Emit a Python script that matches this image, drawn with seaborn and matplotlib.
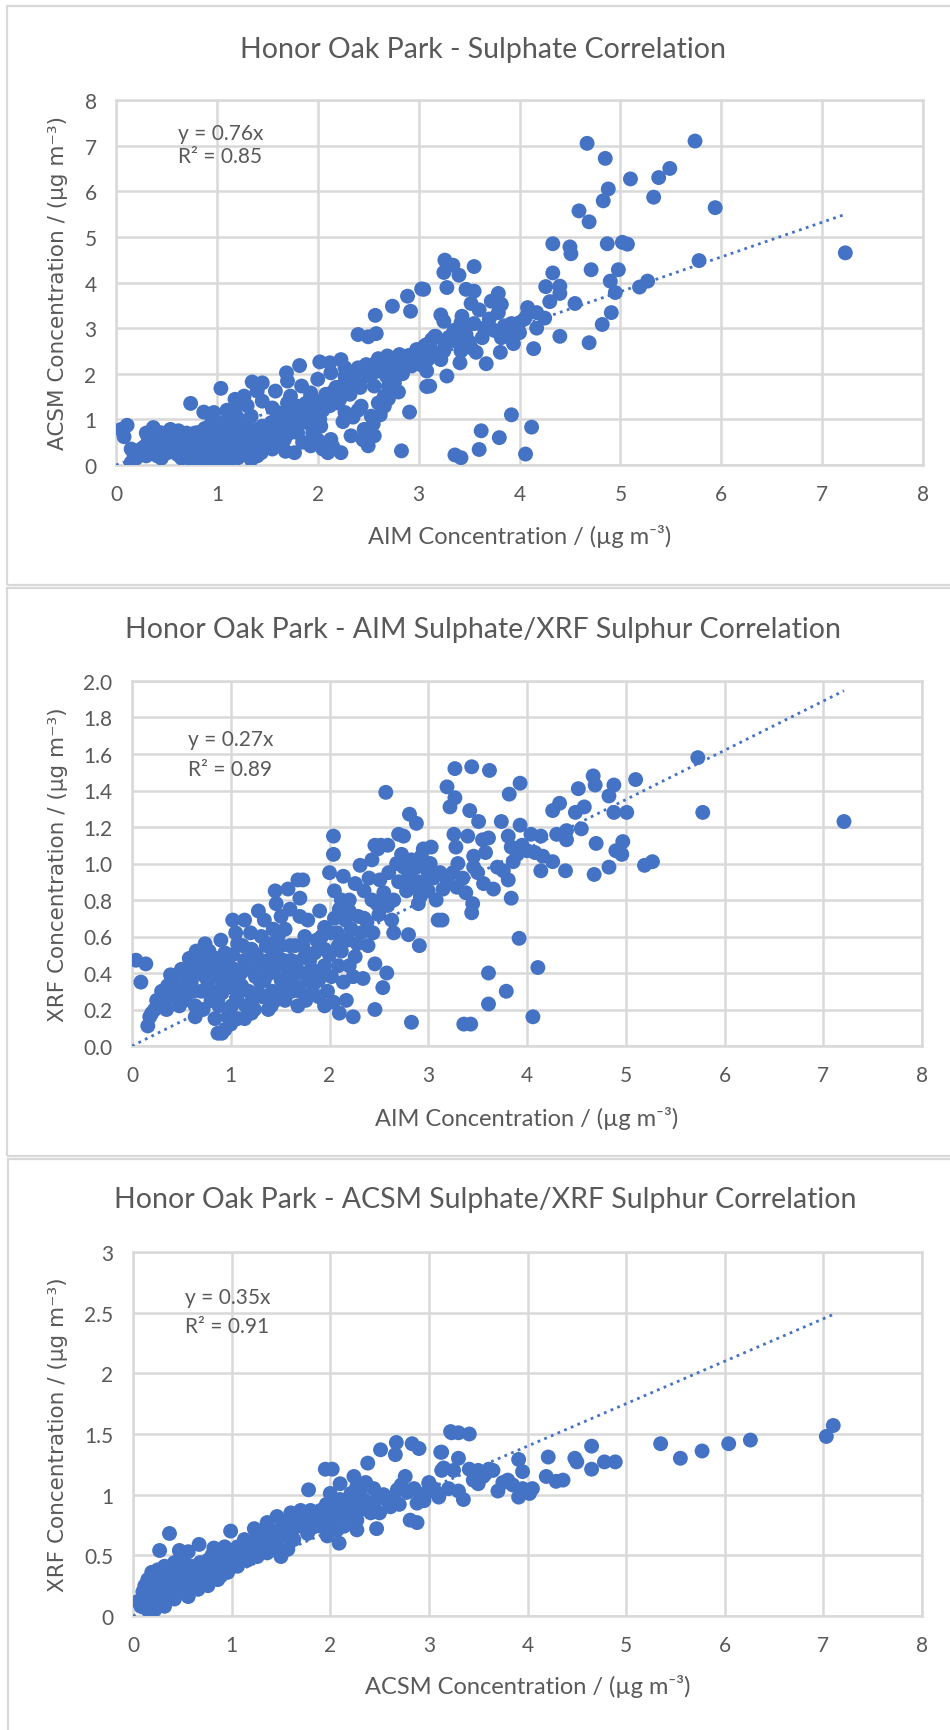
import matplotlib
matplotlib.use("Agg")
import matplotlib.pyplot as plt
import seaborn as sns
import pandas as pd
from matplotlib.patches import Rectangle
from matplotlib.ticker import FuncFormatter

# ---------------- data ----------------
# Panel 1: AIM sulphate (x) vs ACSM sulphate (y)
aim_acsm_points = [
    (0.05,0.78),(0.11,0.87),(0.08,0.62),(0.37,0.82),(0.74,1.35),(1.04,1.68),(0.87,1.16),(0.97,1.15),
    (1.18,1.44),(1.18,1.26),(1.27,1.51),(1.35,1.82),(1.45,1.80),(1.40,1.62),(1.45,1.40),(1.58,1.62),
    (1.69,2.02),(1.70,1.84),(1.82,2.18),(2.02,2.26),(2.12,2.24),(2.40,2.86),(2.50,2.81),(2.58,2.88),
    (2.57,3.28),(2.74,3.48),(2.89,3.70),(2.92,3.37),(3.03,3.86),(2.60,2.33),(2.69,2.39),(2.81,2.42),
    (2.98,2.53),(3.06,2.61),(3.16,2.82),(3.09,2.31),(3.11,1.73),
    (2.27,1.95),(2.40,2.13),(2.50,2.09),(2.33,1.73),(2.20,1.58),(2.07,1.44),(1.93,1.51),(1.80,1.29),
    (1.67,1.07),(1.54,0.93),(1.40,0.78),(1.27,0.71),(1.14,0.60),(1.04,0.53),(0.91,0.42),(0.78,0.42),
    (0.61,0.64),(0.54,0.78),(0.44,0.45),(0.31,0.45),(0.24,0.27),(0.18,0.20),(0.15,0.05),(0.87,0.05),
    (1.04,0.12),(1.21,0.16),(1.34,0.12),(0.97,0.27),(0.74,0.23),(0.61,0.23),
    (1.70,1.36),(1.80,0.85),(1.77,0.27),(1.93,0.42),(2.03,0.85),(2.13,0.56),(2.23,0.27),(2.10,0.27),
    (2.33,0.64),(2.46,0.78),(2.56,0.64),(2.50,0.42),(2.83,0.31),(2.91,1.16),(2.66,1.51),(2.53,1.07),
    (2.27,1.15),(1.93,1.07),(2.20,1.36),(2.43,1.29),(2.60,1.36),(2.76,1.80),(2.86,2.17),(2.23,2.31),
    (2.33,2.02),(2.76,2.02),(2.93,2.17),(1.93,1.58),(1.87,1.15),(1.60,0.71),(1.50,0.56),(1.34,0.42),
    (1.14,0.34),(1.67,0.56),(1.80,0.71),(2.10,1.44),(1.57,0.93),(1.34,1.07),(1.21,0.85),(1.11,0.71),
    (1.04,0.78),(0.81,0.71),(0.71,0.56),(0.44,0.71),(0.34,0.56),(0.51,0.27),(0.41,0.20),(0.84,0.20),
    (0.94,0.56),(1.27,0.42),(1.44,0.27),(1.47,0.71),(1.60,1.15),(1.73,1.51),(1.84,1.73),(2.00,1.88),
    (2.13,2.02),(2.27,2.13),(2.43,1.88),(2.56,1.73),(2.66,1.29),(2.70,1.73),(2.83,2.31),(3.00,2.31),
    (3.13,2.75),
    (0.25,0.35),(0.35,0.30),(0.45,0.55),(0.55,0.50),(0.65,0.45),(0.70,0.70),(0.80,0.55),(0.85,0.35),
    (0.90,0.15),(0.95,0.45),(1.00,0.30),(1.05,0.45),(1.10,0.20),(1.15,0.50),(1.20,0.65),(1.25,0.30),
    (1.30,0.55),(1.35,0.75),(1.40,0.50),(1.45,0.85),(1.50,0.40),(1.55,0.65),(1.60,0.90),(1.65,0.80),
    (1.70,1.00),(1.75,0.95),(1.85,1.00),(1.90,1.20),(1.95,1.30),(2.05,1.20),(2.15,1.60),(2.25,1.75),
    (2.35,1.85),(2.45,2.00),(2.55,2.20),(2.65,2.10),(2.75,2.25),(2.90,2.40),(3.00,2.50),(0.20,0.15),
    (0.30,0.20),(0.38,0.38),(0.50,0.35),(0.60,0.55),(0.68,0.30),(0.75,0.60),(0.88,0.80),(1.00,0.85),
    (1.08,0.95),
    (0.20,0.30),(0.28,0.40),(0.32,0.60),(0.40,0.65),(0.48,0.60),(0.52,0.45),(0.58,0.35),(0.62,0.75),
    (0.66,0.60),(0.72,0.45),(0.78,0.70),(0.82,0.30),(0.86,0.60),(0.90,0.70),(0.92,0.25),(0.96,0.62),
    (1.00,0.10),(1.02,0.65),(1.06,0.25),(1.12,0.80),(1.16,0.25),(1.18,0.45),(1.22,0.35),(1.24,0.58),
    (1.28,0.85),(1.30,0.22),(1.33,0.62),(1.38,0.35),(1.42,0.62),(1.48,0.50),(1.52,0.80),(1.56,0.50),
    (1.62,0.60),(1.66,0.95),(1.72,0.70),(1.76,1.10),(1.82,1.15),(1.88,1.35),(1.92,0.90),(1.98,1.40),
    (2.02,1.00),(2.08,1.55),(2.12,1.30),(2.18,1.70),(2.22,1.45),(2.28,1.90),(2.32,1.55),(2.38,1.95),
    (2.42,1.70),(2.48,2.20),(2.52,1.95),(2.58,2.05),(2.62,2.25),(2.68,1.95),(2.72,2.15),(2.78,2.30),
    (2.84,2.00),(2.88,2.25),(2.95,2.35),(3.02,2.20),(3.05,2.45),(3.12,2.55),(3.18,2.40),(3.25,2.50),
    (3.30,2.80),(3.35,2.95),(3.38,2.70),(3.45,3.00),(3.50,2.70),(3.55,3.10),(3.65,3.00),(3.70,3.20),
    (3.75,2.95),(3.85,3.05),(3.90,2.85),(4.00,2.90),(4.05,3.20),(1.10,1.20),(1.20,1.05),(1.30,1.30),
    (1.55,1.25),(0.95,0.95),(1.15,1.00),(0.55,0.62),(0.30,0.70),(0.15,0.35),(0.45,0.15),(0.65,0.15),
    (0.75,0.10),(0.80,0.15),(1.12,0.08),(1.20,0.30),(1.40,0.20),(1.55,0.35),(1.62,0.45),(1.68,0.30),
    (1.85,0.50),(1.95,0.70),(2.00,0.55),(2.05,0.35),(2.15,0.40),(2.25,0.95),(2.35,1.05),(2.40,1.20),
    (2.45,0.55),(2.55,0.90),(2.62,1.10),(2.70,1.45),(2.80,1.60),
    (4.67,7.05),(4.85,6.72),(5.74,7.10),(5.49,6.50),(5.38,6.30),(5.10,6.27),(4.88,6.05),(4.83,5.79),
    (5.33,5.87),(5.94,5.64),(4.59,5.57),(4.69,5.33),(4.33,4.85),(4.50,4.78),(4.51,4.63),(4.87,4.85),
    (5.02,4.88),(5.07,4.84),(7.23,4.65),(5.78,4.48),(4.33,4.21),(4.71,4.28),(4.98,4.28),(4.90,4.03),
    (5.27,4.03),(5.19,3.90),(4.26,3.91),(4.40,3.92),(4.40,3.76),(4.95,3.78),(4.30,3.58),(4.55,3.54),
    (4.91,3.34),(4.82,3.08),(4.40,2.82),(4.69,2.68),(4.14,2.55),(3.94,2.66),(3.81,2.47),(3.67,2.22),
    (4.17,3.00),(4.08,3.45),(4.17,3.34),(4.25,3.22),(4.00,3.12),(3.92,3.10),(3.79,3.34),(3.72,3.59),
    (3.79,3.76),(3.82,3.52),(3.55,3.81),(3.47,3.85),(3.55,4.35),(3.26,4.49),(3.34,4.38),(3.40,4.16),
    (3.25,4.22),(3.28,3.89),(3.05,3.85),(3.52,3.54),(3.60,3.40),(3.22,3.29),(3.25,3.15),(3.43,3.26),
    (3.42,3.12),(3.17,2.82),(3.08,2.64),(3.26,2.62),(3.47,2.86),(3.63,2.79),(3.52,2.57),(3.57,2.47),
    (3.41,2.24),(3.28,1.95),(3.08,1.72),(3.08,2.06),(3.22,2.31),(3.42,2.50),(3.82,2.79),(3.95,2.97),
    (4.08,3.31),
    (3.92,1.10),(3.62,0.75),(3.80,0.60),(4.12,0.83),(3.60,0.34),(4.06,0.24),(3.36,0.22),(3.42,0.16),
]

# Panel 2: AIM sulphate (x) vs XRF sulphur (y)
aim_xrf_points = [
    (0.04,0.47),(0.14,0.45),(0.09,0.35),(0.39,0.39),(0.74,0.56),(1.02,0.69),(1.14,0.69),(1.28,0.74),
    (1.45,0.85),(1.46,0.78),(1.51,0.71),(1.34,0.69),(1.43,0.64),(1.31,0.60),(1.58,0.86),(1.68,0.91),
    (1.73,0.91),(1.70,0.81),(1.70,0.71),(1.78,0.69),(1.90,0.74),(1.95,0.65),(2.02,0.62),(2.04,1.15),
    (2.04,1.05),(2.00,0.95),(2.05,0.85),(2.14,0.93),(2.26,0.89),(2.31,0.99),(2.43,1.02),(2.49,1.08),
    (2.59,1.10),(2.51,0.91),(2.75,1.15),(2.73,1.05),(2.83,1.02),(2.93,1.04),(3.03,1.09),(2.86,0.87),
    (2.90,0.78),(3.10,0.69),(2.80,0.61),(2.91,0.55),(2.59,0.77),(2.43,0.80),(2.63,0.69),(2.29,0.71),
    (2.16,0.69),(2.22,0.64),(2.09,0.55),(2.26,0.49),(2.39,0.55),(2.46,0.45),(2.58,0.40),(2.34,0.37),
    (2.24,0.38),(2.14,0.35),(2.54,0.32),(2.46,0.20),(2.17,0.25),(2.10,0.18),(2.24,0.16),(2.83,0.13),
    (1.95,0.44),(1.89,0.36),(1.82,0.29),(1.68,0.22),(1.65,0.33),(1.51,0.36),(1.45,0.25),(1.28,0.29),
    (1.21,0.18),(1.07,0.15),(0.94,0.09),(0.87,0.07),(1.01,0.22),(0.91,0.29),(0.87,0.38),(1.04,0.42),
    (1.14,0.47),(1.28,0.45),(1.38,0.47),(1.48,0.45),(1.61,0.47),(1.75,0.49),(1.65,0.55),(1.51,0.55),
    (1.45,0.51),(1.21,0.53),(1.07,0.56),(0.94,0.51),(0.80,0.44),(0.67,0.40),(0.60,0.35),(0.50,0.31),
    (0.40,0.27),(0.30,0.24),(0.23,0.20),(0.18,0.16),(0.16,0.11),(0.77,0.35),(0.80,0.25),(0.64,0.22),
    (0.64,0.16),(0.53,0.25),(0.36,0.33),(0.70,0.49),(0.94,0.40),(1.11,0.33),(1.34,0.36),(1.41,0.22),
    (1.55,0.25),(1.72,0.40),(1.82,0.42),(1.85,0.51),(1.95,0.53),(1.75,0.60),(1.55,0.64),(1.21,0.24),
    (1.14,0.15),(0.97,0.16),(1.04,0.31),(0.84,0.15),(0.91,0.07),(2.02,0.38),(2.09,0.44),(1.89,0.27),
    (1.95,0.22),
    (0.20,0.18),(0.25,0.25),(0.45,0.30),(0.55,0.38),(0.62,0.42),(0.70,0.30),(0.75,0.45),(0.85,0.48),
    (0.98,0.36),(1.10,0.40),(1.18,0.30),(1.25,0.38),(1.32,0.27),(1.40,0.40),(1.58,0.42),(1.62,0.30),
    (1.78,0.36),(1.92,0.60),(2.05,0.70),(2.12,0.80),(2.20,0.74),(2.35,0.70),(2.50,0.72),(2.65,0.80),
    (2.70,0.90),(2.80,0.95),(2.95,0.88),(3.00,0.95),
    (2.57,1.39),(2.81,1.27),(2.88,1.22),(2.46,1.10),(2.52,1.10),(2.70,1.16),(2.95,1.08),(2.85,1.00),
    (2.90,0.90),(3.00,0.85),
    (0.30,0.30),(0.35,0.20),(0.42,0.36),(0.48,0.22),(0.50,0.42),(0.55,0.28),(0.58,0.48),(0.62,0.30),
    (0.68,0.45),(0.72,0.20),(0.74,0.38),(0.78,0.52),(0.82,0.30),(0.84,0.42),(0.88,0.22),(0.90,0.58),
    (0.92,0.34),(0.96,0.45),(1.00,0.12),(1.02,0.50),(1.06,0.26),(1.08,0.38),(1.12,0.55),(1.15,0.22),
    (1.18,0.42),(1.20,0.62),(1.24,0.20),(1.26,0.50),(1.30,0.35),(1.32,0.44),(1.36,0.55),(1.38,0.20),
    (1.42,0.30),(1.44,0.42),(1.48,0.60),(1.50,0.30),(1.53,0.47),(1.56,0.36),(1.60,0.55),(1.63,0.40),
    (1.67,0.46),(1.70,0.30),(1.73,0.55),(1.76,0.25),(1.80,0.47),(1.84,0.34),(1.87,0.58),(1.92,0.40),
    (1.98,0.30),(2.00,0.50),(2.04,0.24),(2.08,0.62),(2.12,0.52),(2.18,0.58),(2.20,0.44),(2.28,0.56),
    (2.32,0.62),(2.38,0.68),(2.44,0.62),(2.48,0.78),(2.55,0.84),(2.60,0.95),(2.65,0.62),(2.68,1.00),
    (2.75,0.98),(2.78,0.85),(2.82,0.92),(2.88,0.98),(2.92,0.82),(2.96,1.00),(3.02,1.00),(3.05,0.92),
    (3.08,0.80),(3.12,0.95),(3.15,0.86),(3.25,0.95),(3.30,1.00),(3.35,0.92),(3.38,0.84),(3.50,0.95),
    (3.70,0.98),(3.90,1.05),(3.95,1.10),(2.40,0.92),(2.35,0.85),(2.20,0.80),(2.10,0.75),(1.60,0.75),
    (1.40,0.56),(1.05,0.62),(0.65,0.52),
    (5.73,1.58),(5.78,1.28),(7.21,1.23),(5.10,1.46),(4.88,1.43),(4.67,1.48),(4.69,1.43),(4.52,1.41),
    (4.83,1.37),(4.88,1.28),(5.01,1.28),(4.58,1.31),(4.49,1.28),(4.33,1.33),(4.26,1.29),(4.55,1.19),
    (4.40,1.18),(4.40,1.13),(4.30,1.16),(4.70,1.11),(4.97,1.12),(4.90,1.07),(4.96,1.05),(5.19,0.99),
    (5.27,1.01),(4.83,0.98),(4.68,0.94),(4.39,0.96),(4.14,0.96),(4.26,1.01),(4.16,1.04),(4.08,1.06),
    (4.00,1.07),(4.04,1.16),(4.14,1.15),
    (3.27,1.52),(3.44,1.53),(3.62,1.51),(3.19,1.42),(3.93,1.44),(3.82,1.38),(3.27,1.36),(3.22,1.31),
    (3.42,1.29),(3.51,1.23),(3.74,1.23),(3.93,1.21),(3.26,1.16),(3.40,1.15),(3.55,1.13),(3.61,1.14),
    (3.81,1.15),(3.84,1.09),(3.28,1.09),(3.46,1.04),(3.58,1.06),(3.46,0.98),(3.76,0.96),(3.86,1.01),
    (3.81,0.91),(3.56,0.89),(3.66,0.86),(3.29,0.87),(3.19,0.91),(3.84,0.81),(3.45,0.78),(3.44,0.73),
    (3.14,0.69),(3.92,0.59),(4.11,0.43),(3.61,0.40),(3.79,0.30),(3.61,0.23),(4.06,0.16),(3.36,0.12),
    (3.43,0.12),
]

# Panel 3: ACSM sulphate (x) vs XRF sulphur (y)
acsm_xrf_points = [
    (7.10,1.57),(7.03,1.48),(6.26,1.45),(6.04,1.42),(5.77,1.36),(5.55,1.30),(5.35,1.42),(4.89,1.27),
    (4.78,1.27),(4.65,1.40),(4.65,1.21),(4.48,1.30),(4.50,1.27),(4.21,1.31),(4.19,1.15),(4.29,1.11),
    (4.36,1.12),(3.91,1.29),(3.95,1.19),(4.02,1.01),(3.91,0.98),(3.80,1.12),(3.70,1.03),(3.30,1.30),
    (3.23,1.51),(3.30,1.51),(3.41,1.50),(3.41,1.21),(3.50,1.09),(3.57,1.17),(3.61,1.21),(3.35,0.96),
    (3.13,1.35),
    (3.85,1.08),(3.95,1.05),(4.05,1.05),(3.75,1.10),(3.45,1.12),(3.55,1.15),(3.20,1.05),(3.25,1.20),
    (3.15,1.22),(3.05,1.05),(3.00,1.10),(2.95,0.95),(3.10,1.00),(3.30,1.03),(3.65,1.20),(3.50,1.20),
    (1.95,1.21),(2.02,1.21),(1.78,1.04),(2.51,1.37),(2.67,1.43),(2.66,1.33),(2.83,1.42),(2.90,1.38),
    (2.38,1.26),(3.22,1.52),(3.12,1.35),(3.13,1.20),(0.37,0.68),(0.27,0.54),(0.47,0.54),(0.56,0.53),
    (0.67,0.59),(0.82,0.56),(0.99,0.70),(1.23,0.72),
    (2.76,1.15),(2.88,0.93),(3.00,1.09),(3.10,0.98),(2.47,0.96),(2.61,0.90),(2.68,1.04),(2.81,0.79),
    (2.88,0.77),(2.47,0.72),(2.09,0.60),(2.27,0.71),(2.41,0.85),(2.27,0.93),(2.10,0.85),(2.00,1.01),
    (1.94,0.85),(1.80,0.79),(1.67,0.74),(1.50,0.68),(1.50,0.49),(1.40,0.63),(1.33,0.71),(1.21,0.57),
    (1.13,0.46),(1.03,0.44),(0.93,0.41),(0.89,0.33),(0.79,0.36),(0.72,0.30),(0.66,0.33),(0.59,0.25),
    (0.52,0.27),(0.45,0.22),(0.39,0.25),(0.32,0.19),(0.25,0.16),(0.19,0.19),(0.15,0.30),(0.19,0.36),
    (0.25,0.38),(0.32,0.41),(0.42,0.44),(0.12,0.14),(0.08,0.08),(0.15,0.05),(0.05,0.12),(0.22,0.27),
    (0.29,0.30),(0.35,0.33),(0.49,0.38),(0.59,0.41),(0.76,0.46),(0.86,0.52),(1.06,0.57),(1.13,0.63),
    (1.26,0.66),(1.36,0.77),(1.46,0.82),(1.60,0.85),(1.70,0.87),(1.80,0.87),(1.90,0.87),(2.00,0.90),
    (2.10,0.96),(2.21,1.01),(2.27,1.07),(2.24,1.15),(2.10,1.09),(2.34,0.96),(2.27,0.79),(2.14,0.74),
    (2.00,0.71),(1.90,0.74),(1.77,0.68),(1.63,0.63),(1.57,0.55),(1.46,0.57),(1.36,0.52),(1.26,0.49),
    (1.16,0.46),(1.06,0.41),(0.96,0.36),(0.86,0.30),(0.76,0.25),(0.66,0.22),(0.56,0.16),(0.42,0.14),
    (0.32,0.08),(0.22,0.05),(1.97,0.66),(2.07,0.71),(0.93,0.57),(0.79,0.46),
    (0.10,0.20),(0.12,0.25),(0.15,0.12),(0.18,0.28),(0.20,0.10),(0.22,0.35),(0.24,0.22),(0.26,0.30),
    (0.28,0.12),(0.30,0.36),(0.33,0.26),(0.36,0.18),(0.38,0.38),(0.40,0.30),(0.44,0.34),(0.46,0.27),
    (0.48,0.45),(0.50,0.20),(0.53,0.33),(0.55,0.42),(0.58,0.30),(0.62,0.38),(0.64,0.28),(0.68,0.44),
    (0.70,0.36),(0.74,0.30),(0.78,0.40),(0.80,0.50),(0.84,0.36),(0.88,0.45),(0.90,0.38),(0.95,0.50),
    (0.98,0.43),(1.02,0.52),(1.05,0.47),(1.10,0.55),(1.15,0.52),(1.18,0.60),(1.22,0.52),(1.28,0.60),
    (1.32,0.56),(1.38,0.65),(1.42,0.70),(1.45,0.62),(1.52,0.75),(1.55,0.66),(1.58,0.78),(1.62,0.72),
    (1.65,0.82),(1.72,0.78),(1.75,0.84),(1.82,0.73),(1.85,0.82),(1.92,0.80),(1.96,0.92),(2.02,0.80),
    (2.05,0.95),(2.12,0.90),(2.16,0.82),(2.20,0.95),(2.24,0.88),(2.30,1.02),(2.32,0.88),(2.36,1.10),
    (2.40,0.92),(2.44,1.05),(2.50,0.85),(2.54,1.00),(2.58,0.95),(2.64,0.98),(2.70,0.92),(2.72,1.08),
    (2.78,1.02),(2.85,1.05),(2.92,1.00),(2.98,1.02),
]

titles = [
    "Honor Oak Park - Sulphate Correlation",
    "Honor Oak Park - AIM Sulphate/XRF Sulphur Correlation",
    "Honor Oak Park - ACSM Sulphate/XRF Sulphur Correlation",
]
x_labels = ["AIM Concentration / (µg m⁻³)", "AIM Concentration / (µg m⁻³)",
            "ACSM Concentration / (µg m⁻³)"]
y_labels = ["ACSM Concentration / (µg m⁻³)", "XRF Concentration / (µg m⁻³)",
            "XRF Concentration / (µg m⁻³)"]
slopes = [0.76, 0.27, 0.35]
r2_values = [0.85, 0.89, 0.91]
x_ticks = [0, 1, 2, 3, 4, 5, 6, 7, 8]
y_ticks_1 = [0, 1, 2, 3, 4, 5, 6, 7, 8]
y_ticks_2 = [0.0, 0.2, 0.4, 0.6, 0.8, 1.0, 1.2, 1.4, 1.6, 1.8, 2.0]
y_ticks_3 = [0, 0.5, 1, 1.5, 2, 2.5, 3]

# ---------------- style ----------------
sns.set_theme(style="whitegrid")
NARROW = ['Liberation Sans Narrow', 'Lato', 'DejaVu Sans']
plt.rcParams['font.family'] = NARROW

BLUE = '#4472C4'
GRID = '#D9D9D9'
TXT = '#595959'

W, H = 950, 1731
fig = plt.figure(figsize=(W / 100, H / 100), dpi=100)
fig.patch.set_facecolor('white')


def rect(l, t, r, b):
    return [l / W, 1 - b / H, (r - l) / W, (b - t) / H]


panels = [
    dict(pts=aim_acsm_points, ax=(116, 101, 923, 466), box=(7, 7, 962, 586),
         title_xy=(483, 50), xlab_y=537, eq_xy=(178, 134, 157), yt=y_ticks_1,
         fmt=lambda v, p: f"{v:g}"),
    dict(pts=aim_xrf_points, ax=(132, 682, 922, 1047), box=(7, 589, 962, 1157),
         title_xy=(483, 630), xlab_y=1119, eq_xy=(188, 740, 770), yt=y_ticks_2,
         fmt=lambda v, p: f"{v:.1f}"),
    dict(pts=acsm_xrf_points, ax=(133, 1253, 922, 1617), box=(8, 1160, 962, 1740),
         title_xy=(485, 1200), xlab_y=1687, eq_xy=(185, 1298, 1327), yt=y_ticks_3,
         fmt=lambda v, p: f"{v:g}"),
]

for i, pnl in enumerate(panels):
    bl, bt, br, bb = pnl['box']
    fig.add_artist(Rectangle((bl / W, 1 - bb / H), (br - bl) / W, (bb - bt) / H,
                             transform=fig.transFigure, fill=False,
                             edgecolor=GRID, linewidth=1.6))

    l, t, r, b = pnl['ax']
    ax = fig.add_axes(rect(l, t, r, b))
    ax.set_facecolor('white')
    df = pd.DataFrame(pnl['pts'], columns=['x', 'y'])

    sns.scatterplot(data=df, x='x', y='y', ax=ax, s=115, color=BLUE,
                    edgecolor='none', linewidth=0, zorder=3)

    # linear trendline through origin (y = slope * x) up to the largest x
    xmax = df['x'].max()
    trend = pd.DataFrame({'x': [0.0, xmax], 'y': [0.0, slopes[i] * xmax]})
    ax.plot(trend['x'], trend['y'], color=BLUE, linestyle=(0, (1, 1.6)),
            linewidth=2.0, zorder=4)

    yt = pnl['yt']
    ax.set_xlim(x_ticks[0], x_ticks[-1])
    ax.set_ylim(yt[0], yt[-1])
    ax.set_xticks(x_ticks)
    ax.set_yticks(yt)
    ax.yaxis.set_major_formatter(FuncFormatter(pnl['fmt']))
    ax.grid(True, color=GRID, linewidth=1.8)
    ax.set_axisbelow(True)
    for sp in ax.spines.values():
        sp.set_color(GRID)
        sp.set_linewidth(1.8)
    ax.tick_params(axis='both', length=0, pad=14, labelsize=15, labelcolor=TXT)

    aw, ah = r - l, b - t
    ax.set_xlabel(x_labels[i], fontsize=17, color=TXT)
    ax.xaxis.set_label_coords(0.5, -(pnl['xlab_y'] - b) / ah)
    ax.xaxis.label.set_va('center')

    ax.set_ylabel(y_labels[i], fontsize=15.5, color=TXT,
                  family=['DejaVu Sans'])
    ax.yaxis.set_label_coords((58 - l) / aw, 0.5)
    ax.yaxis.label.set_va('center')
    ax.yaxis.label.set_ha('center')

    tx, ty = pnl['title_xy']
    ax.set_title(titles[i], fontsize=20.5, color=TXT, x=(tx - l) / aw,
                 y=1 + (t - ty) / ah, pad=0, va='center')

    ex, ey1, ey2 = pnl['eq_xy']
    ax.text((ex - l) / aw, 1 - (ey1 - t) / ah, f"y = {slopes[i]:.2f}x",
            transform=ax.transAxes, fontsize=15, color=TXT, ha='left', va='center')
    ax.text((ex - l) / aw, 1 - (ey2 - t) / ah, f"R² = {r2_values[i]:.2f}",
            transform=ax.transAxes, fontsize=15, color=TXT, ha='left', va='center')

fig.savefig('out.png', dpi=100, facecolor='white')
